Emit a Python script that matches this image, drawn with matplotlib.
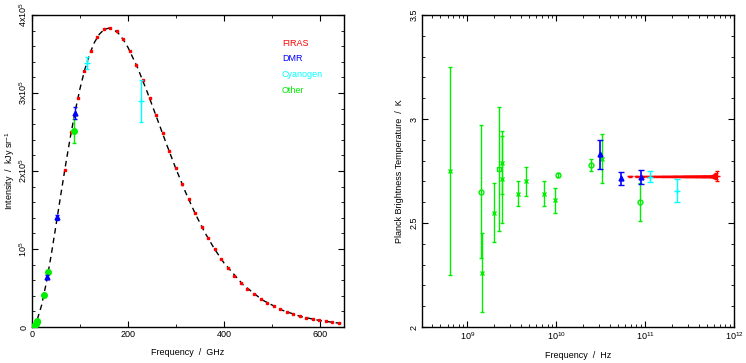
import numpy as np
import matplotlib
matplotlib.use("Agg")
import matplotlib.pyplot as plt
from matplotlib.ticker import MultipleLocator, LogLocator, NullFormatter

plt.rcParams["font.family"] = ["Liberation Sans", "DejaVu Sans"]
plt.rcParams["mathtext.fontset"] = "custom"
plt.rcParams["mathtext.rm"] = "Liberation Sans"
plt.rcParams["mathtext.it"] = "Liberation Sans:italic"

RED = "#ff0000"
BLUE = "#0000ff"
CYAN = "#00ffff"
GREEN = "#00ee00"

# ---------------- blackbody curve ----------------
curve_ghz = [0, 5, 10, 20, 30, 40, 50, 60, 70, 80, 90, 100, 110, 120, 130, 140,
             150, 160, 170, 180, 190, 200, 220, 240, 260, 280, 300, 320, 340,
             360, 380, 400, 440, 480, 520, 560, 600, 640, 650]
curve_kjy = [0, 2000, 7650, 27900, 57200, 92200, 130400, 169600, 207900,
             244000, 276800, 305700, 330100, 349800, 364800, 375200, 381200,
             383200, 381400, 376500, 368600, 358400, 332300, 301400, 268200,
             234800, 202600, 172600, 145400, 121200, 100200, 82100, 54000,
             34600, 21800, 13400, 8200, 4900, 4300]

# ---------------- FIRAS ----------------
firas_ghz = [68.1, 81.5, 95.3, 108.8, 122.3, 136.1, 149.6, 163.4, 176.9, 190.4,
             204.2, 217.6, 231.1, 244.9, 258.4, 272.2, 285.7, 299.2, 313.0,
             326.5, 340.0, 353.8, 367.2, 381.0, 394.5, 408.0, 421.8, 435.3,
             448.8, 462.6, 476.1, 489.9, 503.3, 516.8, 530.6, 544.1, 557.9,
             571.4, 584.9, 598.7, 612.2, 625.7, 639.5]
firas_kjy = [200700, 249500, 293000, 327800, 354100, 372100, 381500, 383500,
             378900, 368800, 354100, 336300, 316100, 293900, 271400, 248200,
             225900, 204300, 183300, 163800, 145800, 128800, 113600, 99500,
             87000, 75900, 65800, 57000, 49200, 42300, 36400, 31100, 26600,
             22600, 19300, 16400, 13800, 11700, 9900, 8400, 7100, 5800, 4500]
firas_temp = [2.725] * 43
firas_terr = [0.003] * 38 + [0.005, 0.007, 0.010, 0.015, 0.025]

# ---------------- DMR ----------------
dmr_ghz = [31.5, 53.0, 90.0]
dmr_kjy = [64500, 140600, 274700]
dmr_kerr = [2000, 3000, 7500]
dmr_temp = [2.83, 2.714, 2.722]
dmr_terr = [0.07, 0.03, 0.035]

# ---------------- Cyanogen ----------------
cn_ghz = [113.6, 227.0]
cn_kjy = [338100, 289700]
cn_kerr = [7500, 26800]
cn_temp = [2.722, 2.656]
cn_terr = [0.027, 0.057]

# ---------------- Other ----------------
oth_ghz = [0.64, 1.42, 1.46, 2.0, 2.3, 2.47, 2.47, 3.74, 4.64, 7.3, 9.7,
           10.4, 24.4, 32.5, 88.0]
oth_kjy = [35, 164, 148, 313, 448, 523, 508, 1134, 1784, 4040, 6890,
           8270, 40900, 70000, 251300]
oth_kerr = [0, 0, 0, 0, 0, 0, 0, 0, 0, 0, 0, 0, 0, 0, 16000]
oth_temp = [2.75, 2.65, 2.26, 2.55, 2.76, 2.79, 2.71, 2.64, 2.70, 2.64, 2.61,
            2.73, 2.78, 2.81, 2.60]
oth_terr = [0.5, 0.32, 0.19, 0.14, 0.30, 0.15, 0.21, 0.06, 0.07, 0.06, 0.06,
            0.01, 0.03, 0.12, 0.09]
oth_marker = ["x", "o", "x", "x", "s", "x", "x", "x", "x", "x", "x",
              "o", "o", "x", "o"]

fig = plt.figure(figsize=(7.46, 3.63), dpi=100)
ax1 = fig.add_axes([32 / 746, 36 / 363, 312 / 746, 312 / 363])
ax2 = fig.add_axes([422 / 746, 36 / 363, 312 / 746, 312 / 363])

TICK_FS = 6.5
LABEL_FS = 6.5

# ================= left panel: intensity =================
ax1.plot(curve_ghz, curve_kjy, color="black", lw=1.0, ls=(0, (4, 3)), zorder=2)
ax1.plot(firas_ghz, firas_kjy, ls="none", marker="s", ms=1.5, color=RED,
         mec=RED, zorder=3)
ax1.errorbar(oth_ghz, oth_kjy, yerr=oth_kerr, fmt="o", ms=4, color=GREEN,
             ecolor=GREEN, elinewidth=1, capsize=1.5, zorder=4)
ax1.errorbar(dmr_ghz, dmr_kjy, yerr=dmr_kerr, fmt="^", ms=3.5, color=BLUE,
             ecolor=BLUE, elinewidth=1, capsize=1.5, zorder=5)
ax1.errorbar(cn_ghz, cn_kjy, yerr=cn_kerr, fmt="+", ms=5, color=CYAN,
             ecolor=CYAN, elinewidth=1, capsize=1.5, zorder=5)

ax1.set_xlim(0, 650)
ax1.set_ylim(0, 4e5)
ax1.xaxis.set_major_locator(MultipleLocator(200))
ax1.xaxis.set_minor_locator(MultipleLocator(100))
ax1.set_yticks([0, 1e5, 2e5, 3e5, 4e5])
ax1.set_yticklabels(["0", r"$10^5$", r"2x$10^5$", r"3x$10^5$", r"4x$10^5$"],
                    rotation=90, va="center")
ax1.yaxis.set_minor_locator(MultipleLocator(2e4))
ax1.set_xlabel("Frequency  /  GHz", fontsize=LABEL_FS, labelpad=6)
ax1.set_ylabel(r"Intensity  /  kJy sr$^{-1}$", fontsize=LABEL_FS, labelpad=0)

legend_items = [("FIRAS", RED), ("DMR", BLUE), ("Cyanogen", CYAN), ("Other", GREEN)]
for i, (name, col) in enumerate(legend_items):
    ax1.text(0.801, 0.910 - i * 0.0505, name, color=col, fontsize=6.5,
             transform=ax1.transAxes, ha="left", va="center")

# ================= right panel: temperature =================
ax2.errorbar(np.array(firas_ghz) * 1e9, firas_temp, yerr=firas_terr, fmt="_",
             ms=4, mew=1.0, color=RED, ecolor=RED, elinewidth=0.8, capsize=1.2,
             zorder=3)
for f, t, e, m in zip(oth_ghz, oth_temp, oth_terr, oth_marker):
    ax2.errorbar([f * 1e9], [t], yerr=[e], fmt=m, ms=3.5, mfc="none",
                 mec=GREEN, mew=1.0, color=GREEN, ecolor=GREEN, elinewidth=1,
                 capsize=1.5, zorder=4)
ax2.errorbar(np.array(dmr_ghz) * 1e9, dmr_temp, yerr=dmr_terr, fmt="^", ms=3.5,
             color=BLUE, ecolor=BLUE, elinewidth=1.2, capsize=2, zorder=5)
ax2.errorbar(np.array(cn_ghz) * 1e9, cn_temp, yerr=cn_terr, fmt="+", ms=5,
             color=CYAN, ecolor=CYAN, elinewidth=1, capsize=2, zorder=5)

ax2.set_xscale("log")
ax2.set_xlim(3.1e8, 1e12)
ax2.set_ylim(2, 3.5)
ax2.xaxis.set_major_locator(LogLocator(base=10, numticks=10))
ax2.xaxis.set_minor_locator(LogLocator(base=10, subs=np.arange(2, 10), numticks=20))
ax2.xaxis.set_minor_formatter(NullFormatter())
ax2.set_yticks([2, 2.5, 3, 3.5])
ax2.set_yticklabels(["2", "2.5", "3", "3.5"], rotation=90, va="center")
ax2.yaxis.set_minor_locator(MultipleLocator(0.1))
ax2.set_xlabel("Frequency  /  Hz", fontsize=LABEL_FS, labelpad=6)
ax2.set_ylabel("Planck Brightness Temperature  /  K", fontsize=LABEL_FS,
               labelpad=4)

for ax in (ax1, ax2):
    ax.tick_params(which="both", direction="in", top=True, right=True,
                   labelsize=TICK_FS, pad=2.5)
    ax.tick_params(which="major", length=4, width=0.8)
    ax.tick_params(which="minor", length=2, width=0.6)
    for s in ax.spines.values():
        s.set_linewidth(1.0)

fig.savefig("out.png", dpi=100)
